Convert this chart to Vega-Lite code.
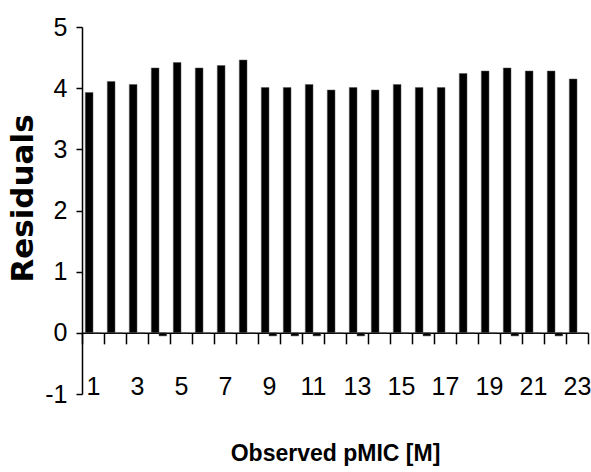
{
  "$schema": "https://vega.github.io/schema/vega-lite/v6.json",
  "autosize": "none",
  "padding": {"left": 82, "top": 27, "right": 3, "bottom": 78},
  "width": 506,
  "height": 367,
  "background": "white",
  "config": {"view": {"stroke": null}},
  "data": {"values": [
    {"obs": 1, "series": "a", "residual": 3.93}, {"obs": 1, "series": "b", "residual": 0},
    {"obs": 2, "series": "a", "residual": 4.11}, {"obs": 2, "series": "b", "residual": 0},
    {"obs": 3, "series": "a", "residual": 4.06}, {"obs": 3, "series": "b", "residual": 0},
    {"obs": 4, "series": "a", "residual": 4.33}, {"obs": 4, "series": "b", "residual": -0.05},
    {"obs": 5, "series": "a", "residual": 4.42}, {"obs": 5, "series": "b", "residual": 0},
    {"obs": 6, "series": "a", "residual": 4.33}, {"obs": 6, "series": "b", "residual": 0},
    {"obs": 7, "series": "a", "residual": 4.37}, {"obs": 7, "series": "b", "residual": 0},
    {"obs": 8, "series": "a", "residual": 4.46}, {"obs": 8, "series": "b", "residual": 0},
    {"obs": 9, "series": "a", "residual": 4.01}, {"obs": 9, "series": "b", "residual": -0.05},
    {"obs": 10, "series": "a", "residual": 4.01}, {"obs": 10, "series": "b", "residual": -0.05},
    {"obs": 11, "series": "a", "residual": 4.06}, {"obs": 11, "series": "b", "residual": -0.05},
    {"obs": 12, "series": "a", "residual": 3.97}, {"obs": 12, "series": "b", "residual": 0},
    {"obs": 13, "series": "a", "residual": 4.01}, {"obs": 13, "series": "b", "residual": -0.05},
    {"obs": 14, "series": "a", "residual": 3.97}, {"obs": 14, "series": "b", "residual": 0},
    {"obs": 15, "series": "a", "residual": 4.06}, {"obs": 15, "series": "b", "residual": 0},
    {"obs": 16, "series": "a", "residual": 4.01}, {"obs": 16, "series": "b", "residual": -0.05},
    {"obs": 17, "series": "a", "residual": 4.01}, {"obs": 17, "series": "b", "residual": 0},
    {"obs": 18, "series": "a", "residual": 4.24}, {"obs": 18, "series": "b", "residual": 0},
    {"obs": 19, "series": "a", "residual": 4.28}, {"obs": 19, "series": "b", "residual": 0},
    {"obs": 20, "series": "a", "residual": 4.33}, {"obs": 20, "series": "b", "residual": -0.05},
    {"obs": 21, "series": "a", "residual": 4.28}, {"obs": 21, "series": "b", "residual": 0},
    {"obs": 22, "series": "a", "residual": 4.28}, {"obs": 22, "series": "b", "residual": -0.05},
    {"obs": 23, "series": "a", "residual": 4.15}, {"obs": 23, "series": "b", "residual": 0}
  ]},
  "mark": {"type": "bar", "color": "black", "stroke": "#555", "strokeWidth": 0.5},
  "encoding": {
    "x": {
      "field": "obs", "type": "ordinal",
      "scale": {"paddingInner": 0, "paddingOuter": 0},
      "axis": {
        "title": "Observed pMIC [M]",
        "titleFont": "Liberation Sans", "titleFontSize": 23, "titleFontWeight": "bold", "titleColor": "black",
        "titlePadding": 43,
        "offset": -61.17,
        "tickBand": "extent",
        "tickSize": 11, "tickColor": "black", "tickWidth": 1.5,
        "domainColor": "black", "domainWidth": 1.5,
        "labelAngle": 0,
        "labelPadding": 31,
        "labelFont": "Liberation Sans", "labelFontSize": 25, "labelColor": "black",
        "labelExpr": "parseInt(datum.label) % 2 == 1 ? datum.label : ''"
      }
    },
    "xOffset": {"field": "series", "type": "nominal", "scale": {"paddingInner": 0, "paddingOuter": 0.43}},
    "y": {
      "field": "residual", "type": "quantitative",
      "scale": {"domain": [-1, 5], "nice": false, "zero": false},
      "axis": {
        "title": "Residuals",
        "titleFont": "DejaVu Sans", "titleFontSize": 31, "titleFontWeight": "bold", "titleColor": "black",
        "titleX": -59, "titleY": 171, "titleAngle": -90, "titleAlign": "center", "titleBaseline": "middle",
        "values": [-1, 0, 1, 2, 3, 4, 5],
        "grid": false,
        "tickSize": 6, "tickColor": "black", "tickWidth": 1.5,
        "domainColor": "black", "domainWidth": 1.5,
        "labelPadding": 9,
        "labelFont": "Liberation Sans", "labelFontSize": 25, "labelColor": "black",
        "labelExpr": "replace(datum.label, '\u2212', '-')"
      }
    }
  }
}
